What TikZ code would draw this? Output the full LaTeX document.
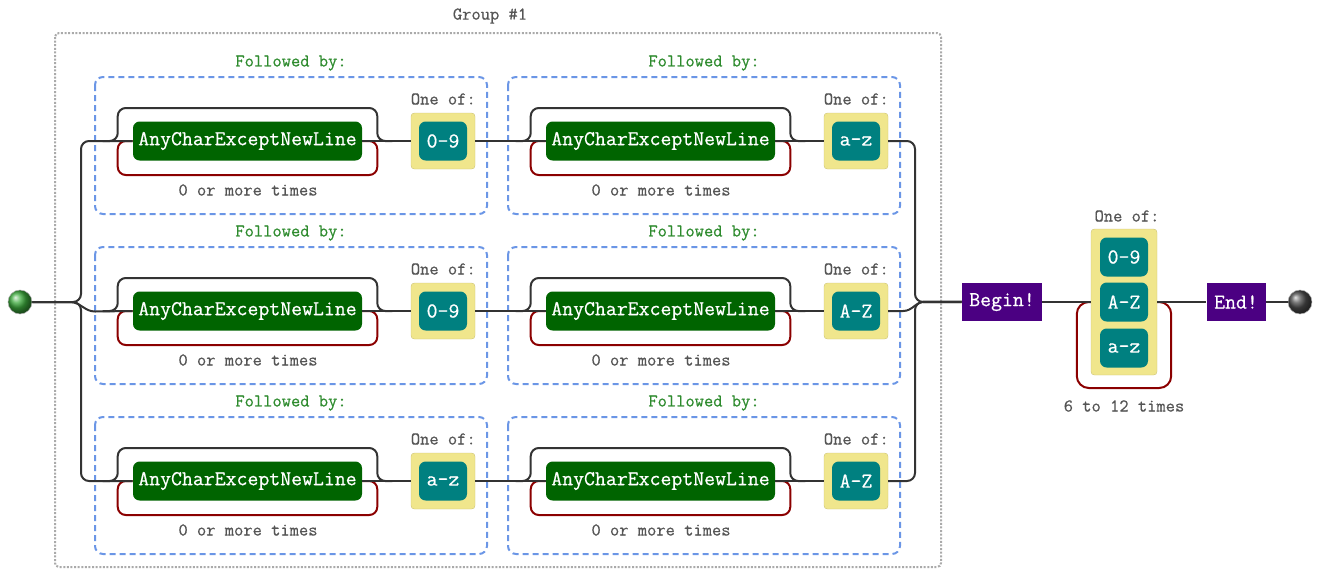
\documentclass[tikz,border=0pt]{standalone}
\usepackage{fontspec}
\usepackage{xcolor}
\usetikzlibrary{calc}

\definecolor{linegray}{HTML}{333333}
\definecolor{labelgray}{HTML}{555555}
\definecolor{dotgray}{HTML}{AAAAAA}
\definecolor{boxblue}{HTML}{6B96E6}
\definecolor{followgreen}{HTML}{2E8B2E}
\definecolor{anygreen}{HTML}{006400}
\definecolor{rangeteal}{HTML}{008080}
\definecolor{setkhaki}{HTML}{F0E68C}
\definecolor{loopred}{HTML}{8B0000}
\definecolor{markpurple}{HTML}{4B0082}
\definecolor{startgreen}{HTML}{3CAA3C}

\newfontfamily\diagmono{Latin Modern Mono}[FakeBold=0.6]
\newcommand\diaglabelfont{\diagmono\fontsize{13.5}{15}\selectfont}
\newcommand\diagnodefont{\diagmono\fontsize{15.9}{18}\selectfont}

\begin{document}
\begin{tikzpicture}[x=0.75pt,y=-0.75pt,
    line/.style={draw=linegray,line width=1.5pt},
    loopback/.style={draw=loopred,line width=1.5pt,rounded corners=6pt},
    followbox/.style={draw=boxblue,line width=1.5pt,dash pattern=on 4.5pt off 3pt,rounded corners=6pt},
    groupbox/.style={draw=dotgray,line width=1.5pt,dash pattern=on 1.5pt off 1.2pt,rounded corners=3pt},
    graytext/.style={text=labelgray,font=\diaglabelfont,inner sep=0pt},
    followtext/.style={text=followgreen,font=\diaglabelfont,inner sep=0pt},
    anynode/.style={fill=anygreen,rounded corners=5pt,text=white,font=\diagnodefont,
        minimum width=171.75pt,minimum height=29.25pt,inner sep=0pt},
    setbox/.style={fill=setkhaki,draw=setkhaki!85!black,line width=0.3pt,rounded corners=2.5pt,
        minimum width=48pt,minimum height=42pt,inner sep=0pt},
    rangenode/.style={fill=rangeteal,rounded corners=5pt,text=white,font=\diagnodefont,
        minimum width=36pt,minimum height=29.25pt,inner sep=0pt},
    marknode/.style={fill=markpurple,text=white,font=\diagnodefont,
        minimum width=60pt,minimum height=28.5pt,inner sep=0pt},
    ballnode/.style={circle,shade,draw=gray!60,line width=0.4pt,minimum size=18pt,inner sep=0pt}]

    \useasboundingbox (0,0) rectangle (1320,569);

    % group
    \draw[groupbox] (55,33) rectangle (941,567);
    \node[graytext] (grouplabel) at (490,16) {Group \#1};

    % three alternatives, each two "followed by" parts
    \foreach \r/\sa/\sb in {0/0-9/a-z,1/0-9/A-Z,2/a-z/A-Z}{
        \pgfmathsetmacro\yc{141+170*\r}
        \foreach \k/\ox/\s in {a/0/\sa,b/413/\sb}{
            \draw[followbox] (95+\ox,\yc-64) rectangle (487+\ox,\yc+73);
            \node[followtext] (follow\r\k) at (291+\ox,\yc-78) {Followed by:};
            \node[anynode] (any\r\k) at (247.5+\ox,\yc) {AnyCharExceptNewLine};
            \node[setbox] (set\r\k) at (443+\ox,\yc) {};
            \node[rangenode] (range\r\k) at (set\r\k) {\s};
            \node[graytext,anchor=east] (oneof\r\k) at (476+\ox,\yc-42) {One of:};
            \node[graytext] (times\r\k) at (248+\ox,\yc+49) {0 or more times};
            \draw[line,rounded corners=6pt] ($(any\r\k.west)+(-30,0)$) -| ($(any\r\k.west)+(-15,-33)$)
                -| ($(any\r\k.east)+(15,0)$) -- ++(15,0);
            \draw[loopback] (any\r\k.west) -- ++(-15,0) -- ++(0,34) -| ($(any\r\k.east)+(15,0)$) -- (any\r\k.east);
            \draw[line] (any\r\k) -- (set\r\k);
        }
        \draw[line] (set\r a) -- (any\r b);
    }

    % start and split
    \node[ballnode,ball color=startgreen] (start) at (20,302) {};
    \coordinate (lsplit) at (81,302);
    \draw[line,rounded corners=6pt] (start) -- (lsplit) |- (any0a.west);
    \draw[line,rounded corners=6pt] (start) -- (lsplit) |- (any2a.west);
    \draw[line] (start) -- ($(lsplit)+(-11,0)$) to[out=0,in=180] ($(lsplit)+(14,9.5)$) -- (any1a.west);

    % merge
    \node[marknode] (begin) at (1002,302) {Begin!};
    \coordinate (rsplit) at (915,302);
    \draw[line,rounded corners=6pt] (set0b) -| (rsplit) -- (begin);
    \draw[line,rounded corners=6pt] (set2b) -| (rsplit) -- (begin);
    \draw[line] (set1b.east) -- ++(15,0) to[out=0,in=180] ++(22,-9.5) -- (begin);

    % repeated set
    \node[setbox,minimum width=49.5pt,minimum height=109.5pt] (rep) at (1124,302) {};
    \node[rangenode] (rep1) at (1124,257) {0-9};
    \node[rangenode] (rep2) at (1124,302) {A-Z};
    \node[rangenode] (rep3) at (1124,348) {a-z};
    \node[graytext] (repof) at (1127,216) {One of:};
    \draw[loopback,rounded corners=9pt] (rep.west) -- ++(-14,0) -- ++(0,86) -| ($(rep.east)+(14,0)$) -- (rep.east);
    \node[graytext] (reptimes) at (1124,406) {6 to 12 times};
    \draw[line] (begin) -- (rep);

    % end
    \node[marknode,minimum width=44.25pt] (end) at (1236,302) {End!};
    \node[ballnode,ball color=gray!60!black] (stop) at (1300,302) {};
    \draw[line] (rep) -- (end);
    \draw[line] (end) -- (stop);
\end{tikzpicture}
\end{document}
